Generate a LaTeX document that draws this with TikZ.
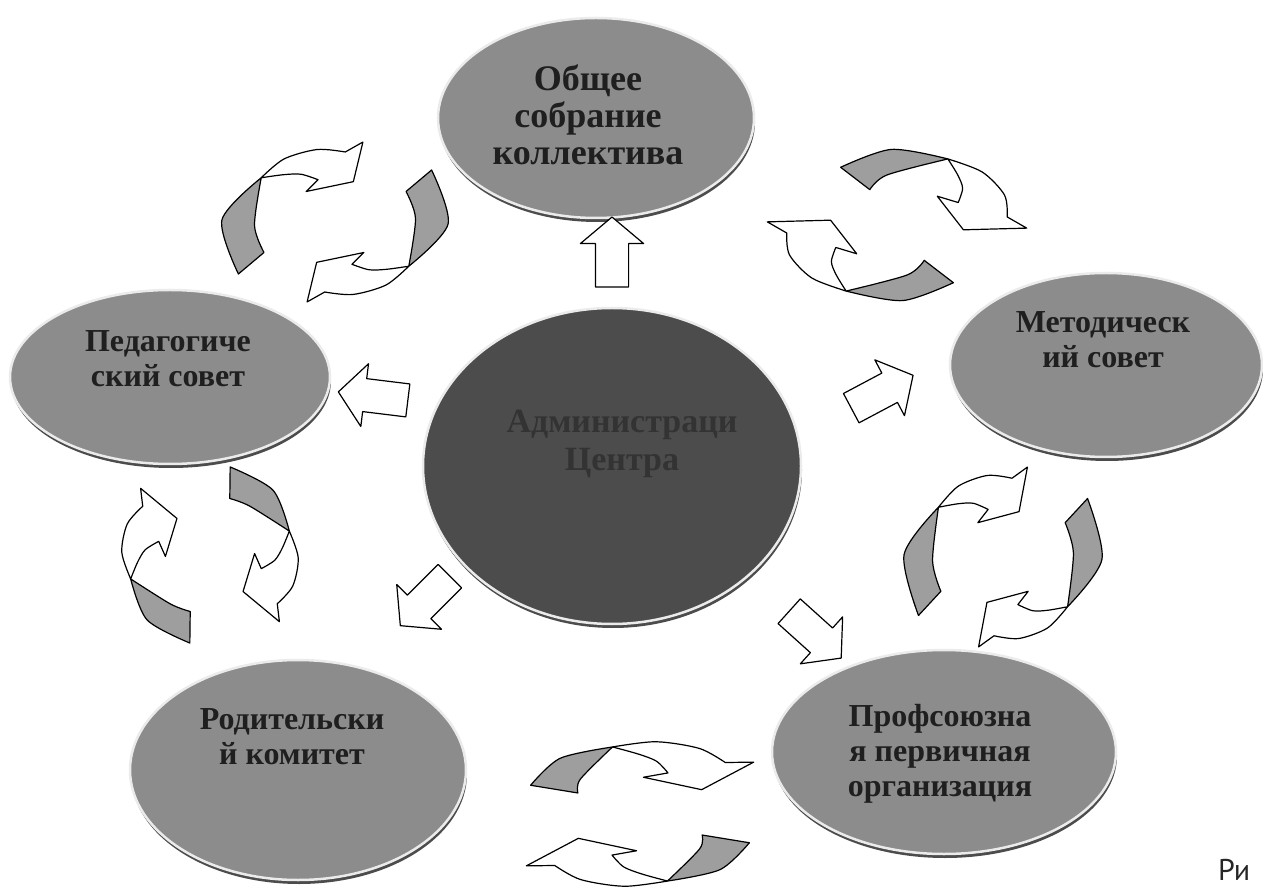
\documentclass[tikz,border=0pt]{standalone}
\usepackage{fontspec}
\setmainfont{Liberation Serif}
\newfontfamily\captionfont{PT Sans}
\usetikzlibrary{shapes.geometric, shapes.arrows, shadows}

\begin{document}
\begin{tikzpicture}[
                x=1pt, y=1pt,
                line join=round,
                orgnode/.style={shape=ellipse, inner sep=0pt, fill=black!45, draw=white!92!black, line width=2.5pt,
                    drop shadow={shadow xshift=1pt, shadow yshift=-4pt, fill=black!70, opacity=1}},
                adminnode/.style={orgnode, fill=black!70},
                orgtext/.style={font=\bfseries\fontsize{32}{35}\selectfont, align=center, text=black!88},
                bigorgtext/.style={orgtext, font=\bfseries\fontsize{36}{37}\selectfont},
                admintext/.style={orgtext, font=\bfseries\fontsize{34}{38}\selectfont, text=black!80},
                blockarrow/.style={single arrow, draw=black, fill=white, line width=1.2pt, inner xsep=0pt, inner ysep=16pt,
                    single arrow head extend=15pt, single arrow tip angle=100, minimum height=70pt},
                ribbonback/.style={fill=black!38, draw=black, line width=1.2pt},
                ribbonfront/.style={fill=white, draw=black, line width=1.2pt}
                ]
                \useasboundingbox (0,0) rectangle (1263,887);

                %% Ellipses
                \node[orgnode, minimum width=316pt, minimum height=200pt] (obschee) at (596,769) {};
                \node[adminnode, minimum width=378pt, minimum height=316pt] (admin) at (612,421) {};
                \node[orgnode, minimum width=320pt, minimum height=174pt] (pedagog) at (170,510) {};
                \node[orgnode, minimum width=312pt, minimum height=184pt] (metod) at (1106,522) {};
                \node[orgnode, minimum width=336pt, minimum height=220pt] (rodit) at (298,117) {};
                \node[orgnode, minimum width=344pt, minimum height=204pt] (profsoyuz) at (944,135) {};

                % Texts
                \node[bigorgtext] (obschee-t) at ([shift={(-8,3)}]obschee.center) {Общее\\собрание\\коллектива};
                \node[admintext] (admin-t) at ([shift={(10,22)}]admin.center) {Администраци\\Центра};
                \node[orgtext] (pedagog-t) at ([shift={(-2,18)}]pedagog.center) {Педагогиче\\ский совет};
                \node[orgtext] (metod-t) at ([shift={(-3,25)}]metod.center) {Методическ\\ий совет};
                \node[orgtext] (rodit-t) at ([shift={(-6,33)}]rodit.center) {Родительски\\й комитет};
                \node[orgtext] (profsoyuz-t) at ([shift={(-4,-2)}]profsoyuz.center) {Профсоюзна\\я первичная\\организация};

                %% Block arrows from the centre
                \foreach \name/\x/\y/\rot in {up/612/628/90, left/380/490/173, right/876/492/28, downleft/430/291/225, downright/810/257/-42} {
                    \node[blockarrow, rotate=\rot] (arrow-\name) at (\x,\y) {};
                }

                %% Circular arrows: grey back of the ribbon, then white front with the head
                \foreach \x/\y/\sx/\sy/\rot/\tail/\tailr in {335/665/112/80/0/217/1.08, 897/662/126/87/-78/202/0.8, 1003/330/98/90/0/217/1.08, 210/332/97/90/-122/200/1.0, 640/73/142/80/-37/192/0.85} {
                    \pgfmathsetmacro{\tailmid}{(\tail+140)/2}
                    \pgfmathsetmacro{\tailin}{\tailr-0.34}
                    \pgfmathsetmacro{\outmid}{\tailr/2+0.47}
                    \pgfmathsetmacro{\inmid}{\tailr/2+0.18}
                    \foreach \turn in {0,180} {
                        \begin{scope}[shift={(\x,\y)}, xscale=\sx, yscale=\sy, rotate=\rot+\turn]
                            \filldraw[ribbonback] plot[smooth] coordinates {(\tail:\tailr) (\tailmid:\outmid) (140:0.86)}
                                -- plot[smooth] coordinates {(140:0.86) ({\tailmid+5}:\inmid) ({\tail-6}:\tailin)} -- cycle;
                            \filldraw[ribbonfront] plot[smooth] coordinates {(140:0.86) (120:0.91) (100:0.92) (84:0.88)}
                                -- (76:1.03) -- (72:0.53) -- (124:0.46) -- (106:0.55)
                                -- plot[smooth] coordinates {(106:0.55) (117:0.67) (128:0.75) (140:0.86)} -- cycle;
                        \end{scope}
                    }
                }

                \node[font=\captionfont\fontsize{30}{36}\selectfont, anchor=base west, inner sep=0pt, text=black!85] (ri) at (1218,7) {Ри};
\end{tikzpicture}
\end{document}
